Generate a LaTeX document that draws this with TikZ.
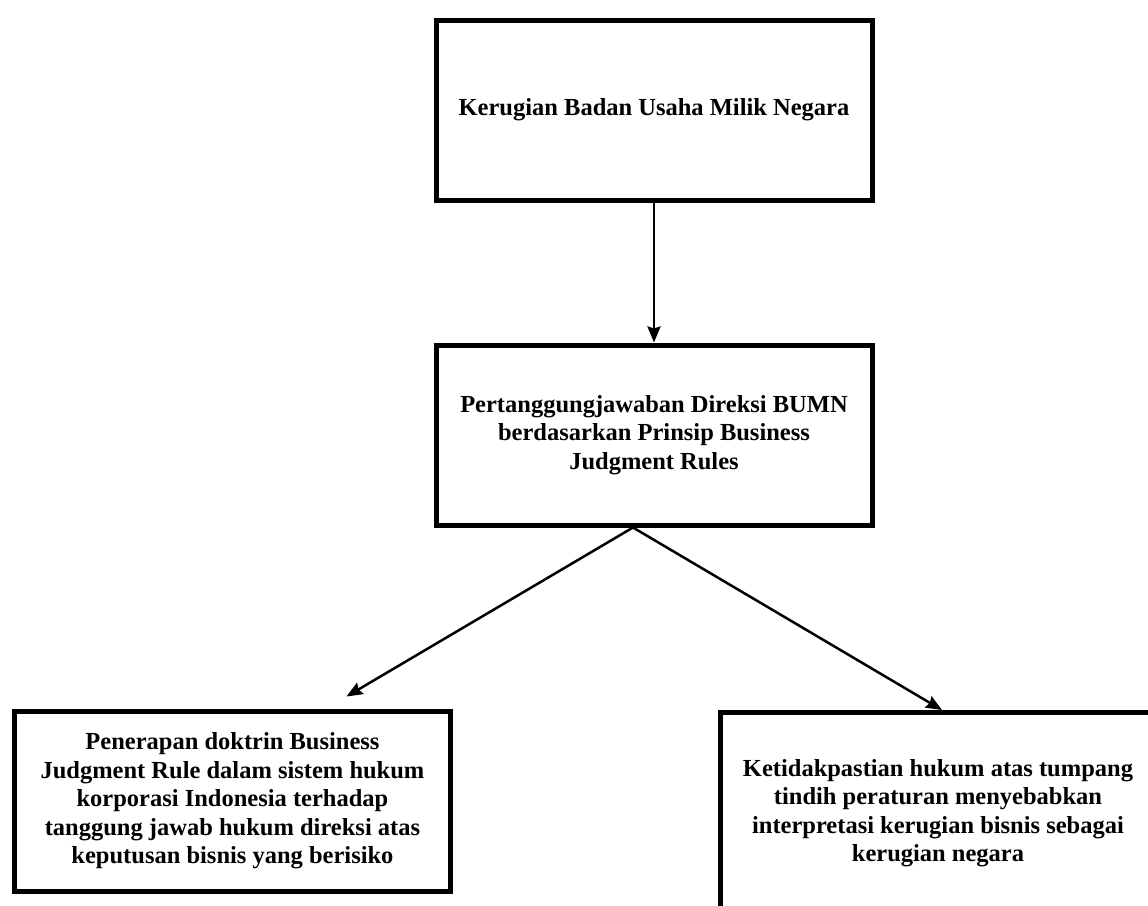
\documentclass[tikz,border=0pt]{standalone}
\usepackage{fontspec}
\setmainfont{Liberation Serif}
\usetikzlibrary{arrows.meta, positioning}

\begin{document}
\begin{tikzpicture}[x=1pt,y=-1pt,line width=2.5pt,
 conn/.style={-{Stealth[length=16pt,width=13pt,inset=2pt]}},
 main node/.style={rectangle,draw,line width=5pt,minimum width=436pt,
 minimum height=180pt,align=center,
 font=\fontsize{24.5}{28.5}\selectfont\bfseries}]
\useasboundingbox (0,0) rectangle (1148,905);
\node[main node](rugi) at (654,110){Kerugian Badan Usaha Milik Negara};
\node[main node](tanggung)[below=140pt of rugi]{Pertanggungjawaban Direksi BUMN\\
 berdasarkan Prinsip Business\\ Judgment Rules};
\node[main node](doktrin) at (232.5,801){Penerapan doktrin Business\\
 Judgment Rule dalam sistem hukum\\ korporasi Indonesia terhadap\\
 tanggung jawab hukum direksi atas\\ keputusan bisnis yang berisiko};
\node[main node,minimum height=201pt](pasti) at (938,813){Ketidakpastian hukum atas tumpang\\
 tindih peraturan menyebabkan\\ interpretasi kerugian bisnis sebagai\\ kerugian negara};

 \draw[conn] (rugi) -- (tanggung);
 \draw[conn] ([xshift=-21pt]tanggung.south) -- ([xshift=114pt,yshift=12pt]doktrin.north);
 \draw[conn] ([xshift=-21pt]tanggung.south) -- ([xshift=4pt]pasti.north);
\end{tikzpicture}
\end{document}
